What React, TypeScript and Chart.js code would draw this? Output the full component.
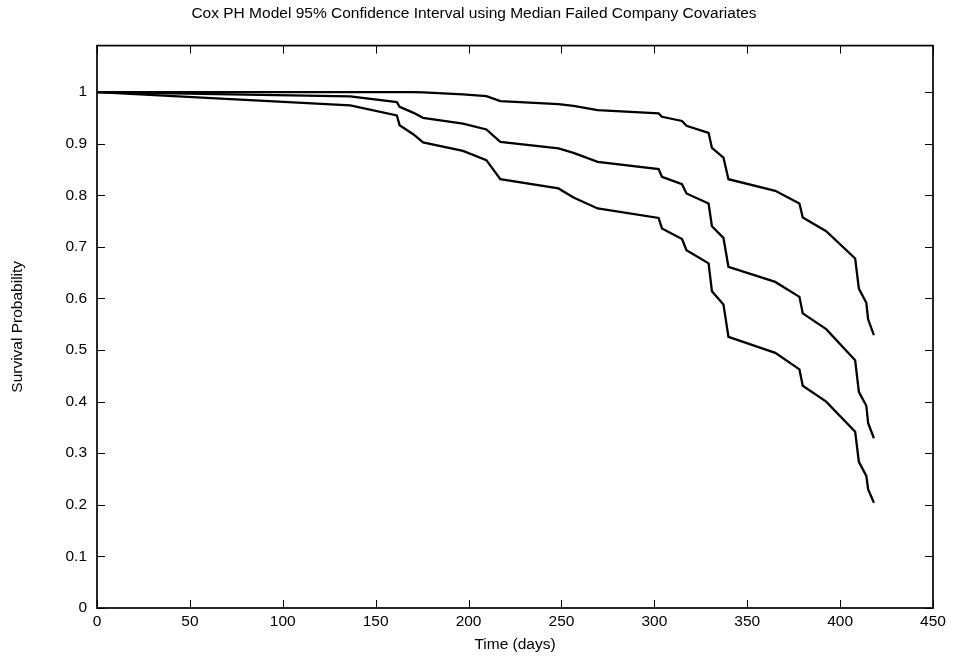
import React, { useEffect, useRef } from "react";
import { Chart, registerables } from "chart.js";

Chart.register(...registerables);

const titleText = "Cox PH Model 95% Confidence Interval using Median Failed Company Covariates";
const xTitle = "Time (days)";
const yTitle = "Survival Probability";

const times = [0, 136.3, 161.4, 162.9, 170.4, 175.5, 197.0, 209.6, 217.1, 248.4, 256.5, 269.5, 302.3, 304.1, 314.9, 317.3, 329.2, 331.0, 337.2, 339.9, 365.1, 378.1, 379.9, 392.5, 408.1, 410.1, 414.1, 415.1, 418.2];
const upper = [1, 1, 1, 1, 1, 0.9995, 0.9955, 0.992, 0.9824, 0.9766, 0.973, 0.965, 0.9585, 0.952, 0.944, 0.9345, 0.921, 0.892, 0.873, 0.831, 0.8085, 0.784, 0.757, 0.7304, 0.6775, 0.619, 0.5915, 0.559, 0.529];
const middle = [1, 0.9915, 0.9804, 0.9713, 0.9597, 0.95, 0.939, 0.9275, 0.9035, 0.8907, 0.882, 0.8647, 0.8506, 0.8357, 0.8215, 0.8035, 0.784, 0.74, 0.7174, 0.6612, 0.632, 0.603, 0.571, 0.5405, 0.48, 0.419, 0.392, 0.358, 0.329];
const lower = [1, 0.974, 0.9547, 0.9358, 0.9178, 0.9023, 0.886, 0.868, 0.8312, 0.8132, 0.7957, 0.7744, 0.756, 0.7357, 0.715, 0.6936, 0.668, 0.614, 0.5884, 0.5256, 0.4946, 0.4624, 0.4306, 0.4, 0.3415, 0.2833, 0.256, 0.2298, 0.2039];

const xTicks = [0, 50, 100, 150, 200, 250, 300, 350, 400, 450];
const yTicks = [0, 0.1, 0.2, 0.3, 0.4, 0.5, 0.6, 0.7, 0.8, 0.9, 1];

const FONT = "'Liberation Sans', Arial, Helvetica, sans-serif";
const FS = 15.5;

const framePlugin = {
  id: "gnuFrame",
  beforeDatasetsDraw(chart: any) {
    const { ctx, chartArea } = chart;
    const xs = chart.scales.x;
    const ys = chart.scales.y;
    const L = 8;
    ctx.save();
    ctx.strokeStyle = "#000";
    ctx.lineWidth = 1;
    ctx.beginPath();
    for (const v of xTicks) {
      const px = Math.round(xs.getPixelForValue(v)) + 0.5;
      ctx.moveTo(px, chartArea.bottom);
      ctx.lineTo(px, chartArea.bottom - L);
      ctx.moveTo(px, chartArea.top);
      ctx.lineTo(px, chartArea.top + L);
    }
    for (const v of yTicks) {
      const py = Math.round(ys.getPixelForValue(v)) + 0.5;
      ctx.moveTo(chartArea.left, py);
      ctx.lineTo(chartArea.left + L, py);
      ctx.moveTo(chartArea.right, py);
      ctx.lineTo(chartArea.right - L, py);
    }
    ctx.stroke();
    ctx.lineWidth = 1.7;
    ctx.strokeRect(chartArea.left, chartArea.top, chartArea.right - chartArea.left, chartArea.bottom - chartArea.top);
    ctx.restore();
  },
};

function mk(values: number[]) {
  return times.map((t, i) => ({ x: t, y: values[i] }));
}

export default function App() {
  const ref = useRef<HTMLCanvasElement | null>(null);
  useEffect(() => {
    document.body.style.margin = "0";
    const canvas = ref.current!;
    const ds = (label: string, vals: number[]) => ({
      label,
      data: mk(vals),
      borderColor: "#000",
      backgroundColor: "#000",
      borderWidth: 2.3,
      pointRadius: 0,
      tension: 0,
      fill: false,
      yAxisID: "y",
    });
    const chart = new Chart(canvas, {
      type: "line",
      data: {
        datasets: [ds("Upper 95%", upper), ds("Estimate", middle), ds("Lower 95%", lower)],
      },
      options: {
        animation: false,
        responsive: false,
        devicePixelRatio: 1,
        layout: { padding: { left: 0, right: 7, top: 0, bottom: 0 } },
        plugins: {
          legend: { display: false },
          tooltip: { enabled: false },
          title: {
            display: true,
            text: titleText,
            color: "#000",
            font: { family: FONT, size: FS, weight: "normal", lineHeight: 1.2 },
            padding: { top: 4, bottom: 23 },
          },
        },
        scales: {
          x: {
            type: "linear",
            min: 0,
            max: 450,
            ticks: { stepSize: 50, color: "#000", font: { family: FONT, size: FS }, padding: 4, maxRotation: 0 },
            grid: { display: false, drawTicks: false },
            border: { display: false },
            title: {
              display: true,
              text: xTitle,
              color: "#000",
              font: { family: FONT, size: FS, lineHeight: 1.2 },
              padding: { top: 0, bottom: 13.7 },
            },
            afterFit(scale: any) {
              scale.height = 60;
            },
          },
          y: {
            type: "linear",
            min: 0,
            max: 1.09,
            afterBuildTicks(scale: any) {
              scale.ticks = yTicks.map((v) => ({ value: v }));
            },
            ticks: {
              color: "#000",
              font: { family: FONT, size: FS },
              padding: 10,
              callback: (v: any) => String(Number(Number(v).toFixed(1))),
            },
            grid: { display: false, drawTicks: false },
            border: { display: false },
            title: {
              display: true,
              text: yTitle,
              color: "#000",
              font: { family: FONT, size: FS, lineHeight: 1.2 },
              padding: { top: 8.5, bottom: 0 },
            },
            afterFit(scale: any) {
              scale.width = 97;
            },
          },
          yRight: {
            type: "linear",
            position: "right",
            min: 0,
            max: 1.09,
            ticks: { display: false },
            grid: { display: false, drawTicks: false },
            border: { display: false },
            afterFit(scale: any) {
              scale.width = 15;
            },
          },
        },
      },
      plugins: [framePlugin],
    });
    return () => chart.destroy();
  }, []);
  return (
    <div style={{ width: 955, height: 668 }}>
      <canvas ref={ref} width={955} height={668} style={{ display: "block", width: 955, height: 668 }} />
    </div>
  );
}
